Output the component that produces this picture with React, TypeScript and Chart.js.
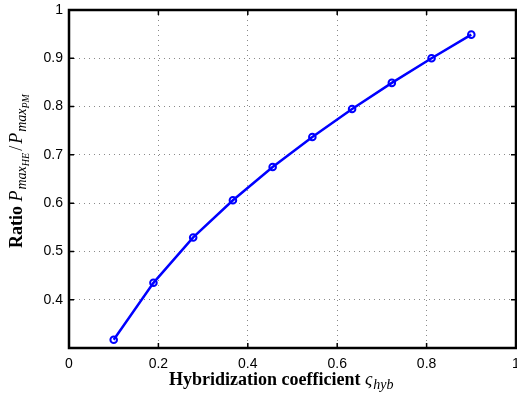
import React, { useEffect, useRef } from "react";
import { Chart, registerables } from "chart.js";

Chart.register(...registerables);

// Data
const hybridCoeff = [0.1, 0.1889, 0.2778, 0.3667, 0.4556, 0.5444, 0.6333, 0.7222, 0.8111, 0.9];
const ratioValues = [0.317, 0.435, 0.529, 0.606, 0.675, 0.737, 0.795, 0.849, 0.9, 0.949];
const xTicks = [0, 0.2, 0.4, 0.6, 0.8, 1];
const xTickLabels = ["0", "0.2", "0.4", "0.6", "0.8", "1"];
const yTicks = [0.4, 0.5, 0.6, 0.7, 0.8, 0.9, 1];
const yTickLabels = ["0.4", "0.5", "0.6", "0.7", "0.8", "0.9", "1"];

type Seg = { t: string; f: string; dy: number; gap?: number };

const SERIF = "'Liberation Serif', 'Times New Roman', serif";

const xLabelSegs: Seg[] = [
  { t: "Hybridization coefficient ", f: `bold 18px ${SERIF}`, dy: 0 },
  { t: "ς", f: `italic 18px ${SERIF}`, dy: 0, gap: 1 },
  { t: "hyb", f: `italic 14px ${SERIF}`, dy: 4 },
];

const yLabelSegs: Seg[] = [
  { t: "Ratio ", f: `bold 18px ${SERIF}`, dy: 0 },
  { t: "P", f: `italic 18px ${SERIF}`, dy: 0, gap: 1 },
  { t: "max", f: `italic 14px ${SERIF}`, dy: 4 },
  { t: "HE", f: `italic 10px ${SERIF}`, dy: 7, gap: 2 },
  { t: "/", f: `18px ${SERIF}`, dy: 0, gap: 2 },
  { t: "P", f: `italic 18px ${SERIF}`, dy: 0, gap: 1 },
  { t: "max", f: `italic 14px ${SERIF}`, dy: 4 },
  { t: "PM", f: `italic 10px ${SERIF}`, dy: 7 },
];

function drawRich(ctx: CanvasRenderingContext2D, segs: Seg[], x: number, y: number) {
  let cx = x;
  ctx.textAlign = "left";
  ctx.textBaseline = "alphabetic";
  for (const s of segs) {
    ctx.font = s.f;
    ctx.fillText(s.t, cx, y + s.dy);
    cx += ctx.measureText(s.t).width + (s.gap || 0);
  }
}

const framePlugin = {
  id: "matlabFrame",
  afterDraw(chart: any) {
    const { ctx, chartArea: a, scales } = chart;
    ctx.save();
    ctx.strokeStyle = "#000";
    ctx.lineWidth = 1.5;
    const tl = 5;
    ctx.beginPath();
    for (const v of xTicks) {
      const px = scales.x.getPixelForValue(v);
      ctx.moveTo(px, a.bottom);
      ctx.lineTo(px, a.bottom - tl);
      ctx.moveTo(px, a.top);
      ctx.lineTo(px, a.top + tl);
    }
    for (const v of yTicks) {
      const py = scales.y.getPixelForValue(v);
      ctx.moveTo(a.left, py);
      ctx.lineTo(a.left + tl, py);
      ctx.moveTo(a.right, py);
      ctx.lineTo(a.right - tl, py);
    }
    ctx.stroke();
    ctx.lineWidth = 2.5;
    ctx.strokeRect(a.left, a.top, a.right - a.left, a.bottom - a.top);

    ctx.fillStyle = "#000";
    // x axis label
    drawRich(ctx, xLabelSegs, 169, 385);
    // y axis label
    ctx.save();
    ctx.translate(22, 248);
    ctx.rotate(-Math.PI / 2);
    drawRich(ctx, yLabelSegs, 0, 0);
    ctx.restore();
    ctx.restore();
  },
};

export default function App() {
  const canvasRef = useRef<HTMLCanvasElement | null>(null);

  useEffect(() => {
    const canvas = canvasRef.current;
    if (!canvas) return;
    const chart = new Chart(canvas, {
      type: "line",
      data: {
        datasets: [
          {
            data: hybridCoeff.map((x, i) => ({ x, y: ratioValues[i] })),
            borderColor: "#0000ff",
            borderWidth: 2.5,
            pointRadius: 3.3,
            pointBorderWidth: 2,
            pointBackgroundColor: "rgba(0,0,0,0)",
            pointBorderColor: "#0000ff",
            tension: 0,
            fill: false,
          },
        ],
      },
      options: {
        responsive: false,
        animation: false,
        events: [],
        layout: { autoPadding: false, padding: { top: 10, right: 1, left: 0, bottom: 0 } },
        plugins: {
          legend: { display: false },
          tooltip: { enabled: false },
          title: { display: false },
        },
        scales: {
          x: {
            type: "linear",
            min: 0,
            max: 1,
            afterBuildTicks: (scale: any) => {
              scale.ticks = xTicks.map((v) => ({ value: v }));
            },
            afterFit: (scale: any) => {
              scale.height = 48;
              scale.paddingLeft = 0;
              scale.paddingRight = 0;
              scale.paddingTop = 0;
              scale.paddingBottom = 0;
            },
            ticks: {
              padding: 8,
              maxRotation: 0,
              autoSkip: false,
              color: "#000",
              font: { family: "'Liberation Sans', Arial, sans-serif", size: 14 },
              callback: (_v: any, i: number) => xTickLabels[i],
            },
            grid: { color: "#8a8a8a", lineWidth: 1, drawTicks: false },
            border: { display: false, dash: [1, 4] },
          },
          y: {
            type: "linear",
            min: 0.3,
            max: 1,
            afterBuildTicks: (scale: any) => {
              scale.ticks = yTicks.map((v) => ({ value: v }));
            },
            afterFit: (scale: any) => {
              scale.width = 69;
              scale.paddingLeft = 0;
              scale.paddingRight = 0;
              scale.paddingTop = 0;
              scale.paddingBottom = 0;
            },
            ticks: {
              padding: 6,
              autoSkip: false,
              color: "#000",
              font: { family: "'Liberation Sans', Arial, sans-serif", size: 14 },
              callback: (_v: any, i: number) => yTickLabels[i],
            },
            grid: { color: "#8a8a8a", lineWidth: 1, drawTicks: false },
            border: { display: false, dash: [1, 4] },
          },
        },
      },
      plugins: [framePlugin],
    });
    return () => chart.destroy();
  }, []);

  return (
    <div style={{ position: "fixed", left: 0, top: 0, width: 517, height: 396, background: "#fff" }}>
      <canvas ref={canvasRef} width={517} height={396} style={{ display: "block" }} />
    </div>
  );
}
